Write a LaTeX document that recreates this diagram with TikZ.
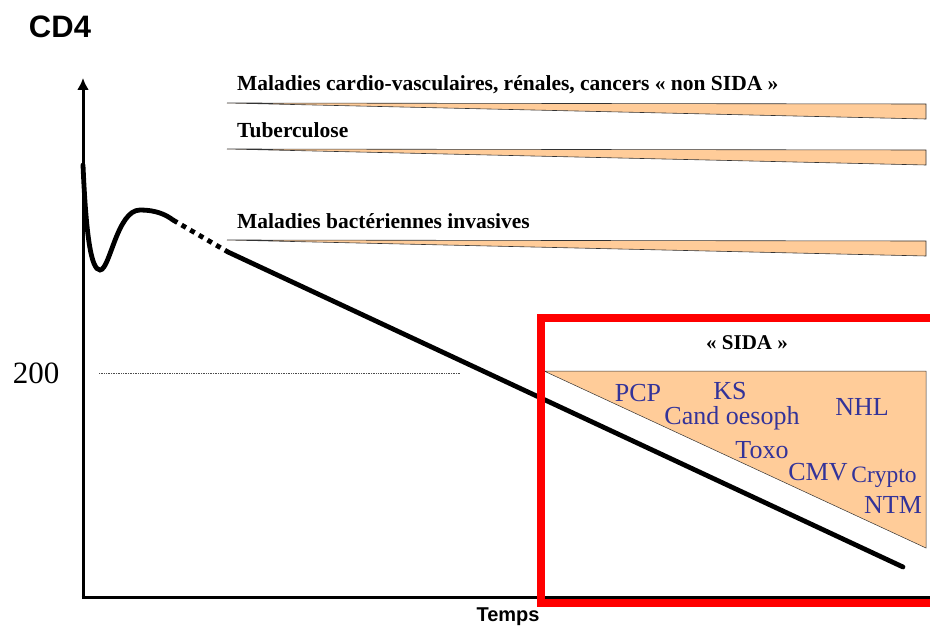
\documentclass[tikz,border=0pt]{standalone}
\usepackage{fontspec}
\setmainfont{Liberation Serif}
\setsansfont{Liberation Sans}
\usetikzlibrary{arrows.meta}
\definecolor{peach}{RGB}{255,204,153}
\definecolor{navy}{RGB}{51,51,153}
\tikzset{
	wedge/.style={fill=peach, draw=black!80, line width=0.6pt},
	risk/.style={anchor=west, inner sep=0pt, font=\fontsize{21.5}{24}\selectfont\bfseries},
	oi/.style={text=navy, inner sep=0pt, font=\fontsize{26}{28}\selectfont},
	cdfour/.style={line width=4.8pt, line cap=round}
}
\begin{document}
	\begin{tikzpicture}[x=1pt, y=-1pt]
		\useasboundingbox (0,0) rectangle (930,626);
		\node[inner sep=0pt, font=\fontsize{31}{33}\selectfont\sffamily\bfseries] (cd) at (60,27) {CD4};
		\draw[-{Latex[length=12pt,width=12pt]}, line width=3pt] (83,597) -- (83,78);
		\draw[line width=3pt] (81.5,597) -- (940,597);
		\node[inner sep=0pt, font=\fontsize{20}{22}\selectfont\sffamily\bfseries] (temps) at (508,617) {Temps};
		\node[inner sep=0pt, font=\fontsize{31}{33}\selectfont] (cdlim) at (36,373) {200};
		\draw[densely dotted, line width=0.7pt, black!70] (99,373) -- (460,373);
		% bandes de risque
		\draw[wedge] (227,103) -- (926,104) -- (926,119) -- cycle;
		\node[risk] (cv) at (237,85) {Maladies cardio-vasculaires, rénales, cancers « non SIDA »};
		\draw[wedge] (227,149) -- (926,150) -- (926,165) -- cycle;
		\node[risk] (tb) at (237,130) {Tuberculose};
		\draw[wedge] (227,240) -- (926,241) -- (926,256) -- cycle;
		\node[risk] (bact) at (237,221) {Maladies bactériennes invasives};
		% courbe des CD4
		\coordinate (start) at (83,165);
		\coordinate (dip) at (100,270);
		\coordinate (bump) at (140,210);
		\coordinate (plateau) at (173,220);
		\coordinate (decl) at (228,252);
		\coordinate (stop) at (903,567);
		\draw[cdfour] (start) .. controls (86,235) and (91,270) .. (dip) .. controls (110,270) and (117,210) .. (bump) .. controls (155,210) and (165,214) .. (plateau);
		\draw[cdfour, line cap=butt, dash pattern=on 5pt off 5pt] (plateau) -- (decl);
		\draw[cdfour] (decl) -- (stop);
		% SIDA
		\draw[wedge, line width=0.5pt] (544,371) -- (926,371) -- (926,548) -- cycle;
		\node[inner sep=0pt, font=\fontsize{21}{24}\selectfont\bfseries] (sida) at (747,343) {« SIDA »};
		\node[oi] (pcp) at (638,393) {PCP};
		\node[oi] (ks) at (730,391) {KS};
		\node[oi] (cand) at (732,418) {Cand oesoph};
		\node[oi] (nhl) at (862,407) {NHL};
		\node[oi] (toxo) at (762,450) {Toxo};
		\node[oi] (cmv) at (818,472) {CMV};
		\node[oi, font=\fontsize{23.5}{25}\selectfont] (crypto) at (884,477) {Crypto};
		\node[oi] (ntm) at (893,505) {NTM};
		\draw[red, line width=8pt] (541,318) rectangle (945,603);
	\end{tikzpicture}
\end{document}
